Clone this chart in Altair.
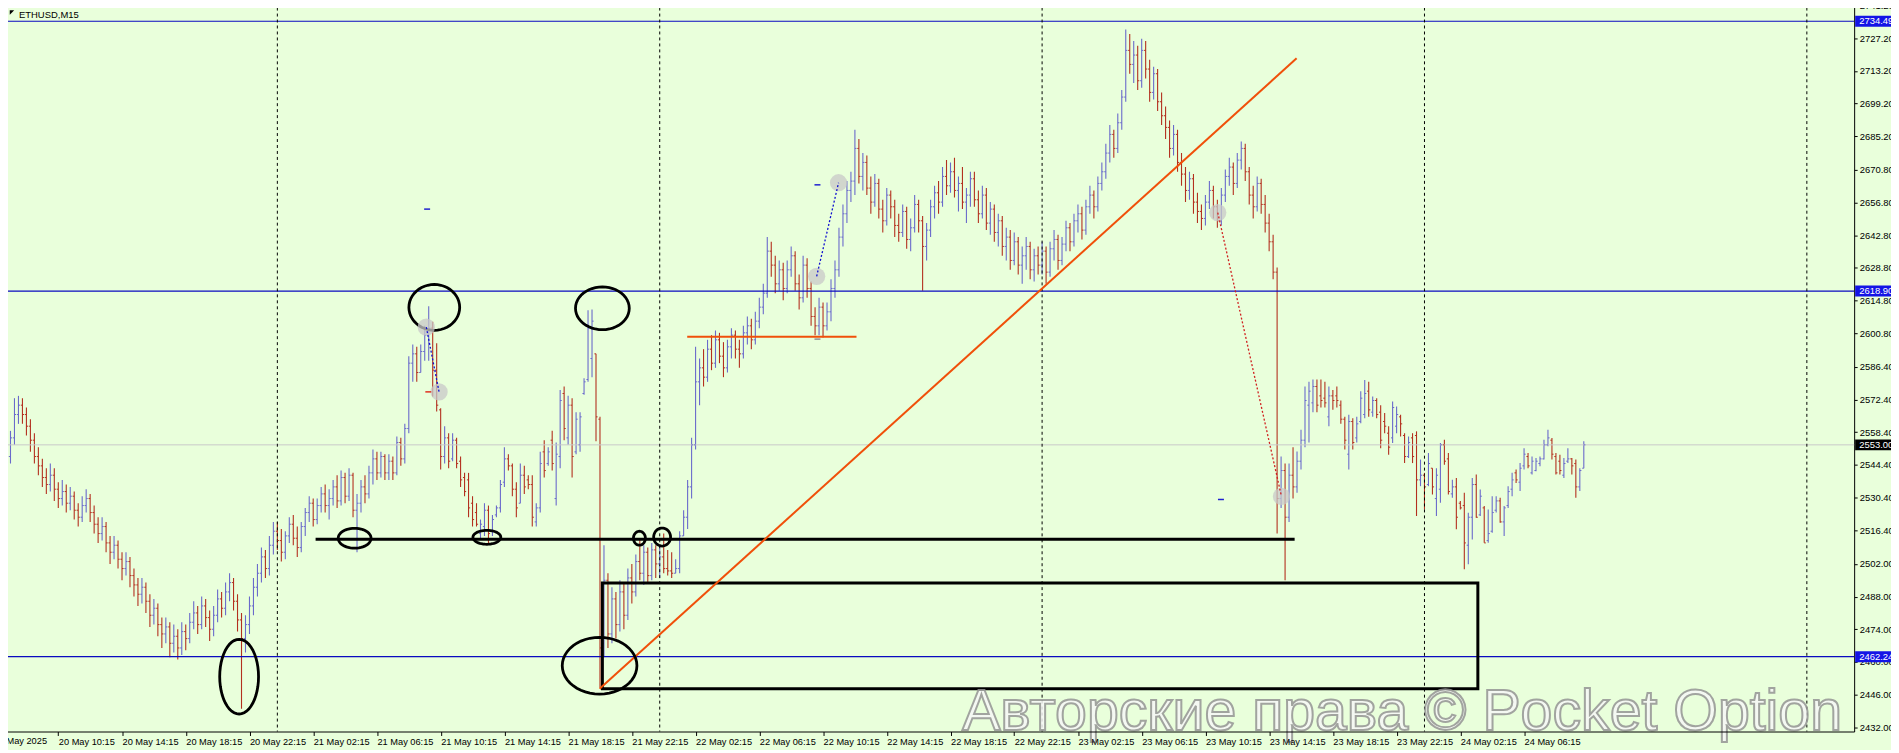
import math
import altair as alt
import pandas as pd

BG = "#e9ffdb"
UP = "#6a6acb"
DOWN = "#b3301f"
FONT = "Liberation Sans"

# ---------------- price data: 15-min bars, k counted from 21 May 00:00 ----------------
# 20 May 06:45 .. 23:45  (k = -69 .. -1)
o_20 = [2542, 2545, 2548, 2556, 2566, 2570, 2566, 2561, 2555, 2548, 2544, 2539, 2536, 2540, 2534, 2530, 2533,
        2528, 2531, 2525, 2522, 2527, 2530, 2524, 2519, 2515, 2518, 2511, 2507, 2510, 2504, 2500, 2503, 2497,
        2493, 2489, 2492, 2486, 2480, 2483, 2476, 2472, 2475, 2468, 2471, 2466, 2473, 2470, 2477, 2481, 2476,
        2484, 2479, 2474, 2480, 2487, 2483, 2490, 2494, 2486, 2478, 2470, 2476, 2484, 2492, 2498, 2505, 2500, 2510]
h_20 = [2549, 2551, 2559, 2573, 2574, 2573, 2569, 2564, 2558, 2552, 2547, 2543, 2545, 2543, 2537, 2538, 2536,
        2535, 2533, 2528, 2531, 2534, 2532, 2527, 2522, 2522, 2520, 2514, 2514, 2512, 2507, 2507, 2505, 2500,
        2496, 2496, 2494, 2489, 2487, 2485, 2479, 2479, 2477, 2476, 2474, 2477, 2476, 2481, 2486, 2484, 2488,
        2487, 2482, 2484, 2491, 2490, 2494, 2498, 2496, 2489, 2481, 2480, 2488, 2496, 2502, 2509, 2508, 2514, 2520]
l_20 = [2538, 2541, 2545, 2553, 2562, 2562, 2557, 2550, 2545, 2540, 2535, 2532, 2533, 2529, 2526, 2527, 2524,
        2525, 2521, 2518, 2520, 2524, 2520, 2515, 2511, 2512, 2507, 2502, 2504, 2500, 2495, 2497, 2492, 2488,
        2484, 2485, 2481, 2475, 2476, 2471, 2466, 2468, 2462, 2464, 2461, 2463, 2465, 2468, 2474, 2472, 2474,
        2475, 2469, 2471, 2477, 2479, 2480, 2486, 2482, 2473, 2440, 2464, 2472, 2480, 2488, 2494, 2496, 2497, 2506]
c_20 = [2545, 2548, 2556, 2566, 2570, 2566, 2561, 2555, 2548, 2544, 2539, 2536, 2540, 2534, 2530, 2533, 2528,
        2531, 2525, 2522, 2527, 2530, 2524, 2519, 2515, 2518, 2511, 2507, 2510, 2504, 2500, 2503, 2497, 2493,
        2489, 2492, 2486, 2480, 2483, 2476, 2472, 2475, 2468, 2471, 2466, 2473, 2470, 2477, 2481, 2476, 2484,
        2479, 2474, 2480, 2487, 2483, 2490, 2494, 2486, 2478, 2470, 2476, 2484, 2492, 2498, 2505, 2500, 2510, 2516]

# 21 May (k = 0 .. 95)
o_21 = [2516, 2512, 2507, 2514, 2519, 2513, 2509, 2518, 2524, 2528, 2521, 2527, 2532, 2527, 2530, 2535,
        2529, 2539, 2531, 2540, 2525, 2528, 2535, 2532, 2541, 2547, 2541, 2548, 2541, 2546, 2541, 2554,
        2547, 2560, 2588, 2592, 2584, 2593, 2600, 2603, 2585, 2568, 2548, 2556, 2547, 2555, 2546, 2539,
        2538, 2528, 2524, 2515, 2518, 2525, 2516, 2523, 2526, 2537, 2547, 2544, 2534, 2528, 2540, 2538,
        2536, 2520, 2526, 2550, 2545, 2555, 2530, 2548, 2575, 2556, 2570, 2550, 2553, 2575, 2581, 2590,
        2592, 2564, 2468, 2495, 2472, 2487, 2476, 2490, 2480, 2496, 2490, 2503, 2498, 2507, 2497, 2508]
h_21 = [2520, 2517, 2516, 2522, 2523, 2518, 2520, 2526, 2531, 2530, 2530, 2535, 2536, 2534, 2538, 2540,
        2542, 2541, 2543, 2541, 2532, 2538, 2540, 2544, 2551, 2550, 2550, 2549, 2549, 2548, 2556.6, 2556,
        2562, 2591, 2596, 2595, 2596, 2604, 2612.4, 2605.7, 2596.5, 2568.7, 2561, 2558, 2558, 2556, 2548, 2541,
        2541, 2531, 2528, 2521, 2528, 2527, 2523, 2527, 2538, 2552, 2549, 2545, 2537, 2545, 2544, 2540,
        2540, 2528, 2550, 2555, 2552, 2559, 2554, 2576.5, 2578, 2574, 2573, 2567, 2567, 2581.5, 2610.7, 2611,
        2592, 2565, 2510, 2498, 2492, 2490, 2495, 2494, 2500, 2502, 2506, 2513, 2510, 2509, 2511, 2510]
l_21 = [2508, 2503, 2504, 2511, 2510, 2505, 2507, 2514, 2520, 2518, 2519, 2524, 2524, 2521, 2527, 2526,
        2527, 2528, 2529, 2522, 2507, 2524, 2528, 2530, 2536, 2538, 2539, 2538, 2538, 2538, 2540, 2544,
        2545, 2558, 2580, 2580, 2584, 2589, 2589, 2573.7, 2567.3, 2542.4, 2545, 2543, 2546, 2543, 2535, 2531,
        2522, 2518, 2518, 2513, 2514, 2511, 2514, 2522, 2524, 2535, 2542, 2531, 2522, 2528, 2532, 2534,
        2518, 2518, 2524, 2539, 2544, 2542, 2527, 2543, 2555, 2553, 2539, 2549, 2550, 2574.5, 2580, 2582,
        2554.5, 2449, 2462, 2466, 2468, 2470, 2473, 2474, 2478, 2485, 2488, 2495, 2493, 2494, 2495, 2496]
c_21 = [2512, 2507, 2514, 2519, 2513, 2509, 2518, 2524, 2528, 2521, 2527, 2532, 2527, 2530, 2535, 2529,
        2539, 2531, 2540, 2525, 2528, 2535, 2532, 2541, 2547, 2541, 2548, 2541, 2546, 2541, 2554, 2547,
        2560, 2588, 2592, 2584, 2593, 2600, 2603, 2585, 2570, 2548, 2556, 2546, 2555, 2545, 2538, 2533,
        2526, 2521, 2519, 2519, 2525, 2515, 2521, 2526, 2536, 2547, 2544, 2534, 2526, 2540, 2535, 2536,
        2522, 2526, 2545, 2542, 2550, 2545, 2549, 2572, 2560, 2570, 2548, 2564, 2565, 2580, 2603, 2606,
        2565, 2466, 2495, 2472, 2487, 2476, 2490, 2480, 2496, 2490, 2503, 2498, 2507, 2497, 2508, 2502]

# 22 May (k = 96 .. 191)
o_22 = [2502, 2505, 2500, 2499, 2498, 2500, 2514, 2522, 2535, 2553, 2580, 2586, 2582, 2594, 2588, 2598,
        2591, 2586, 2595, 2600, 2594, 2592, 2601, 2604, 2598, 2606, 2612, 2618, 2636, 2630, 2622, 2628,
        2620, 2628, 2634, 2622, 2616, 2630, 2620, 2608, 2604, 2612, 2604, 2610, 2620, 2628, 2642, 2652,
        2662, 2666, 2680, 2668, 2674, 2663, 2657, 2665, 2654, 2649, 2660, 2655, 2647, 2644, 2653, 2641,
        2646, 2656, 2649, 2638, 2645, 2655, 2661, 2657, 2668, 2664, 2670, 2662, 2665, 2657, 2660, 2667,
        2658, 2652, 2660, 2648, 2654, 2644, 2649, 2638, 2642, 2632, 2640, 2630, 2634, 2638, 2628, 2634]
h_22 = [2510, 2515, 2508, 2507, 2504, 2516, 2525, 2538, 2556, 2595, 2590, 2594, 2598, 2600, 2602, 2601,
        2597, 2598, 2603, 2602, 2598, 2604, 2608, 2607, 2610, 2616, 2622, 2642, 2640, 2634, 2632, 2631,
        2632, 2638, 2636, 2626, 2634, 2633, 2623, 2612, 2616, 2614, 2614, 2624, 2632, 2646, 2656, 2666,
        2670, 2688, 2684, 2678, 2677, 2668, 2669, 2667, 2658, 2663, 2662, 2658, 2652, 2656, 2655, 2650,
        2660, 2658, 2651, 2648, 2658, 2664, 2666, 2672, 2675, 2674, 2676, 2668, 2672, 2663, 2670, 2670,
        2662, 2664, 2663, 2657, 2656, 2652, 2651, 2646, 2645, 2644, 2642, 2638, 2642, 2640, 2637, 2638]
l_22 = [2496, 2498, 2497, 2496, 2498, 2498, 2514, 2517, 2530, 2551, 2570, 2578, 2580, 2585, 2586, 2588,
        2582, 2584, 2590, 2590, 2586, 2590, 2596, 2594, 2596, 2603, 2609, 2616, 2625, 2618, 2619, 2615,
        2618, 2625, 2619, 2611, 2614, 2616, 2604, 2600, 2600, 2599, 2602, 2606, 2616, 2625, 2638, 2648,
        2657, 2660, 2665, 2662, 2660, 2652, 2655, 2650, 2644, 2647, 2650, 2642, 2640, 2642, 2637, 2636,
        2644, 2644, 2619, 2632, 2642, 2650, 2652, 2655, 2660, 2661, 2659, 2653, 2654, 2648, 2655, 2655,
        2648, 2650, 2645, 2643, 2640, 2638, 2634, 2632, 2628, 2630, 2626, 2622, 2628, 2624, 2623, 2626]
c_22 = [2505, 2500, 2499, 2498, 2500, 2514, 2522, 2535, 2553, 2580, 2586, 2582, 2594, 2588, 2598, 2591,
        2586, 2595, 2600, 2594, 2592, 2601, 2604, 2598, 2606, 2612, 2618, 2636, 2630, 2622, 2628, 2620,
        2628, 2634, 2622, 2616, 2630, 2620, 2608, 2604, 2612, 2604, 2610, 2620, 2628, 2642, 2652, 2662,
        2666, 2680, 2668, 2674, 2663, 2657, 2665, 2654, 2649, 2660, 2655, 2647, 2644, 2653, 2641, 2646,
        2656, 2649, 2638, 2645, 2655, 2661, 2657, 2668, 2664, 2670, 2662, 2665, 2657, 2660, 2667, 2658,
        2652, 2660, 2648, 2654, 2644, 2649, 2638, 2642, 2632, 2640, 2630, 2634, 2638, 2628, 2634, 2630]

# 23 May (k = 192 .. 287)
o_23 = [2630, 2636, 2627, 2637, 2641, 2632, 2639, 2646, 2640, 2649, 2652, 2645, 2655, 2660, 2655, 2665,
        2670, 2678, 2686, 2680, 2691, 2702, 2722, 2716, 2720, 2709, 2722, 2714, 2704, 2712, 2700, 2694,
        2689, 2680, 2686, 2674, 2669, 2662, 2667, 2657, 2653, 2650, 2657, 2662, 2655, 2649, 2660, 2668,
        2672, 2665, 2675, 2680, 2670, 2660, 2655, 2665, 2656, 2648, 2640, 2627, 2530, 2542, 2522, 2540,
        2535, 2546, 2555, 2570, 2571, 2578, 2574, 2573, 2565, 2574, 2574, 2570, 2564, 2549, 2563, 2556,
        2563, 2566, 2576, 2567, 2572, 2567, 2563, 2558, 2556, 2561, 2565, 2557, 2548, 2556, 2557, 2538]
h_23 = [2640, 2638, 2640, 2645, 2643, 2642, 2649, 2648, 2652, 2656, 2655, 2658, 2664, 2662, 2668, 2674,
        2682, 2690, 2688, 2695, 2705, 2731, 2729, 2726, 2724, 2727, 2726, 2718, 2715, 2714, 2704, 2698,
        2692, 2690, 2688, 2678, 2672, 2670, 2669, 2661, 2656, 2660, 2666, 2664, 2658, 2663, 2671, 2676,
        2674, 2678, 2683, 2682, 2672, 2664, 2668, 2667, 2660, 2652, 2643, 2629, 2548, 2545, 2545, 2552,
        2550.2, 2559.5, 2578, 2580, 2581, 2581, 2581, 2580, 2578, 2576.5, 2578, 2572, 2565, 2565.9, 2564.4, 2565,
        2576, 2580.8, 2580, 2573.7, 2573, 2570, 2566.6, 2561, 2571.6, 2569.4, 2565.9, 2558, 2556.6, 2558, 2558.8, 2546.7]
l_23 = [2626, 2622, 2625, 2632, 2628, 2630, 2636, 2636, 2638, 2644, 2641, 2643, 2652, 2650, 2653, 2662,
        2667, 2674, 2676, 2678, 2688, 2700, 2712, 2708, 2705, 2706, 2710, 2700, 2701, 2696, 2690, 2684,
        2676, 2677, 2670, 2664, 2657, 2658, 2652, 2648, 2645, 2647, 2654, 2650, 2646, 2647, 2657, 2664,
        2660, 2663, 2671, 2666, 2656, 2650, 2653, 2652, 2644, 2636, 2624, 2515, 2526, 2495, 2520, 2530,
        2532.5, 2542.4, 2552, 2554, 2567, 2567, 2569, 2569, 2561, 2568, 2569, 2562, 2551, 2542.4, 2551, 2554,
        2562.3, 2564.4, 2565, 2565, 2564.4, 2551.6, 2558, 2548.8, 2553.8, 2558, 2556.6, 2545.2, 2547.4, 2545.2, 2522.5, 2535.3]
c_23 = [2636, 2627, 2637, 2641, 2632, 2639, 2646, 2640, 2649, 2652, 2645, 2655, 2660, 2655, 2665, 2670,
        2678, 2686, 2680, 2691, 2702, 2722, 2716, 2720, 2709, 2722, 2714, 2704, 2712, 2700, 2694, 2689,
        2680, 2686, 2674, 2669, 2662, 2667, 2657, 2653, 2650, 2657, 2662, 2655, 2649, 2660, 2668, 2672,
        2665, 2675, 2680, 2670, 2660, 2655, 2665, 2656, 2648, 2640, 2627, 2530, 2542, 2522, 2540, 2535,
        2546, 2555, 2572, 2576, 2578, 2570, 2572, 2571, 2574, 2572, 2572, 2564, 2555, 2563, 2554, 2562,
        2573, 2575, 2568, 2572, 2566, 2555, 2561, 2552, 2569, 2566, 2562, 2548, 2554, 2548, 2538, 2540]

# 24 May 00:00 .. 10:00 (k = 288 .. 328)
o_24 = [2540, 2536, 2543, 2530, 2534, 2553, 2547, 2532, 2535, 2528, 2527, 2510, 2522, 2536, 2523, 2526,
        2512, 2516, 2525, 2529, 2520, 2527, 2534, 2541, 2537, 2544, 2548, 2541, 2542, 2545, 2547, 2553,
        2555, 2548, 2546, 2540, 2546, 2547, 2545, 2535, 2543]
h_24 = [2541, 2549.5, 2543, 2543, 2553.8, 2555.2, 2549.5, 2538.1, 2538.8, 2528.9, 2532.5, 2523.9, 2538.8, 2540.3,
        2533.9, 2526.8, 2525.3, 2531, 2531, 2530.3, 2526.8, 2535.3, 2541, 2542.4, 2545.2, 2551.6, 2549.5, 2548,
        2547.4, 2548, 2555.2, 2559.5, 2555.9, 2549.5, 2548.8, 2547.4, 2551.6, 2547.4, 2546.7, 2543, 2554.5]
l_24 = [2525.3, 2535.3, 2531.7, 2522.5, 2528.2, 2544.5, 2531.7, 2530.3, 2516.8, 2525.3, 2499.7, 2501.9, 2512.5,
        2521.8, 2522.5, 2511.1, 2511.1, 2515.4, 2524, 2519.6, 2514, 2526, 2531, 2536.7, 2533.2, 2542.4, 2543,
        2540.3, 2541.7, 2543.8, 2546.7, 2552.4, 2546.7, 2540.3, 2540.3, 2538.8, 2545.2, 2540.3, 2530.3, 2533.2, 2543]
c_24 = [2535, 2545, 2535, 2540, 2553, 2546, 2533, 2535, 2522, 2526, 2511, 2522, 2536, 2522, 2531, 2511,
        2515, 2524, 2529, 2520, 2526, 2533, 2538, 2538, 2543, 2549, 2544, 2546, 2546, 2547, 2553, 2556,
        2549, 2541, 2542, 2545, 2547, 2544, 2535, 2542, 2553]

rows = []
for k0, oo, hh, ll, cc in ((-69, o_20, h_20, l_20, c_20), (0, o_21, h_21, l_21, c_21),
                           (96, o_22, h_22, l_22, c_22), (192, o_23, h_23, l_23, c_23),
                           (288, o_24, h_24, l_24, c_24)):
    for i in range(len(cc)):
        rows.append((k0 + i, oo[i], hh[i], ll[i], cc[i], UP if cc[i] >= oo[i] else DOWN))
bars = pd.DataFrame(rows, columns=["k", "o", "h", "l", "c", "col"])

# ---------------- axes ----------------
time_ticks = [-55 + 16 * n for n in range(24)]
time_labels = ["20 May 10:15", "20 May 14:15", "20 May 18:15", "20 May 22:15",
               "21 May 02:15", "21 May 06:15", "21 May 10:15", "21 May 14:15", "21 May 18:15", "21 May 22:15",
               "22 May 02:15", "22 May 06:15", "22 May 10:15", "22 May 14:15", "22 May 18:15", "22 May 22:15",
               "23 May 02:15", "23 May 06:15", "23 May 10:15", "23 May 14:15", "23 May 18:15", "23 May 22:15",
               "24 May 02:15", "24 May 06:15"]
price_ticks = [2741.2, 2727.2, 2713.2, 2699.2, 2685.2, 2670.8, 2656.8, 2642.8, 2628.8, 2614.8, 2600.8,
               2586.4, 2572.4, 2558.4, 2544.4, 2530.4, 2516.4, 2502.0, 2488.0, 2474.0, 2460.0, 2446.0, 2432.0]

W, H = 1862, 733
XS = alt.Scale(domain=[-69.625, 395.875], nice=False, zero=False)
YS = alt.Scale(domain=[2430.2, 2742.9], nice=False, zero=False)
label_expr = "[" + ",".join("'%s'" % s for s in time_labels) + "][(datum.value + 55) / 16]"
XA = alt.Axis(values=time_ticks, labelExpr=label_expr, title=None, grid=False, orient="bottom",
              labelAlign="left", labelBaseline="top", labelPadding=2, tickSize=4, labelFont=FONT,
              labelFontSize=9.3, labelColor="black", tickColor="black", domainColor="black",
              labelOverlap=False, labelFlush=False, zindex=1)
YA = alt.Axis(values=price_ticks, format=".2f", title=None, grid=False, orient="right",
              labelAlign="left", labelBaseline="middle", labelPadding=2, tickSize=3, labelFont=FONT,
              labelFontSize=9.5, labelColor="black", tickColor="black", domainColor="black",
              labelOverlap=False, labelFlush=False)


def X(f):
    return alt.X(f, type="quantitative", scale=XS, axis=XA)


def Y(f):
    return alt.Y(f, type="quantitative", scale=YS, axis=YA)


col = alt.Color("col:N", scale=None)

hl = alt.Chart(bars).mark_rule(strokeWidth=1.1, clip=True).encode(x=X("k"), y=Y("l"), y2="h", color=col)
op = alt.Chart(bars).mark_rule(strokeWidth=1, xOffset=-1.6, x2Offset=0, clip=True).encode(
    x=X("k"), x2="k", y=Y("o"), color=col)
cl = alt.Chart(bars).mark_rule(strokeWidth=1, xOffset=0, x2Offset=1.6, clip=True).encode(
    x=X("k"), x2="k", y=Y("c"), color=col)

# ---------------- annotations ----------------
hline = alt.Chart(pd.DataFrame({"p": [2734.49, 2618.90, 2462.24]})).mark_rule(
    color="#0a0ac0", strokeWidth=1.2).encode(y=Y("p"), x=alt.value(0), x2=alt.value(W))
cur = alt.Chart(pd.DataFrame({"p": [2553.00]})).mark_rule(color="#c9c9c9", strokeWidth=1).encode(
    y=Y("p"), x=alt.value(0), x2=alt.value(W))
sep = alt.Chart(pd.DataFrame({"k": [0, 96, 192, 288, 384]})).mark_rule(
    color="black", strokeWidth=1, strokeDash=[3, 3]).encode(x=X("k"), y=alt.value(0), y2=alt.value(H))

level = alt.Chart(pd.DataFrame({"k": [9.6], "k2": [255.4], "p": [2512.6]})).mark_rule(
    color="black", strokeWidth=3).encode(x=X("k"), x2="k2", y=Y("p"))
box = alt.Chart(pd.DataFrame({"k": [81.6], "k2": [301.4], "p": [2448.5], "p2": [2493.8]})).mark_rect(
    filled=False, color="black", strokeWidth=3).encode(x=X("k"), x2="k2", y=Y("p"), y2="p2")
trend = alt.Chart(pd.DataFrame({"k": [80.9], "k2": [255.9], "p": [2448.5], "p2": [2718.6]})).mark_rule(
    color="#f0500a", strokeWidth=2).encode(x=X("k"), x2="k2", y=Y("p"), y2="p2")
short = alt.Chart(pd.DataFrame({"k": [102.9], "k2": [145.4], "p": [2599.3]})).mark_rule(
    color="#f0500a", strokeWidth=2).encode(x=X("k"), x2="k2", y=Y("p"))

ell_k = [-9.6, 39.4, 81.6, 19.4, 52.6, 90.9, 96.6, 80.9]
ell_p = [2453.7, 2611.9, 2611.5, 2513.0, 2513.4, 2513.0, 2513.5, 2458.4]
ell_w = [39, 51, 54, 33, 28, 12, 17, 75]
ell_h = [75, 46, 43, 20, 14, 14, 18, 57]


def ellipse_path(w, h, n=48):
    m = float(max(w, h))
    rx, ry = w / m, h / m
    pts = ["%.4f,%.4f" % (rx * math.cos(2 * math.pi * i / n), ry * math.sin(2 * math.pi * i / n)) for i in range(n)]
    return "M" + "L".join(pts) + "Z"


ells = pd.DataFrame({"k": ell_k, "p": ell_p,
                     "shape": [ellipse_path(w, h) for w, h in zip(ell_w, ell_h)],
                     "size": [max(w, h) ** 2 for w, h in zip(ell_w, ell_h)]})
ellipse = alt.Chart(ells).mark_point(filled=False, color="black", strokeWidth=2.8, opacity=1).encode(
    x=X("k"), y=Y("p"), shape=alt.Shape("shape:N", scale=None), size=alt.Size("size:Q", scale=None))

trade_k = [37.4, 40.6, 135.4, 140.9, 236.1, 252.1]
trade_p = [2603.4, 2575.7, 2625.2, 2665.3, 2652.5, 2530.9]
circles = alt.Chart(pd.DataFrame({"k": trade_k, "p": trade_p})).mark_circle(
    color="#c8c8c8", size=300, opacity=0.75).encode(x=X("k"), y=Y("p"))
segs = pd.DataFrame({"seg": ["a", "a", "b", "b", "c", "c"], "k": trade_k, "p": trade_p,
                     "clr": ["#1010d0", "#1010d0", "#1010d0", "#1010d0", "#d02020", "#d02020"]})
dotted = alt.Chart(segs).mark_line(strokeWidth=1.3, strokeDash=[2, 2]).encode(
    x=X("k"), y=Y("p"), detail="seg:N", color=alt.Color("clr:N", scale=None))

dash_k = [37.6, 135.6, 236.9, 37.9, 135.6]
dash_p = [2654.0, 2664.4, 2529.6, 2575.7, 2598.3]
dash_c = ["#2020d0", "#2020d0", "#2020d0", "#e03020", "#909090"]
dashes = alt.Chart(pd.DataFrame({"k": dash_k, "p": dash_p, "clr": dash_c})).mark_rule(
    strokeWidth=1.5, xOffset=-3, x2Offset=3).encode(
    x=X("k"), x2="k", y=Y("p"), color=alt.Color("clr:N", scale=None))

tag_p = [2734.49, 2618.90, 2462.24, 2553.00]
tag_t = ["2734.49", "2618.90", "2462.24", "2553.00"]
tag_c = ["#1414e6", "#1414e6", "#1414e6", "#000000"]
tags_df = pd.DataFrame({"p": tag_p, "t": tag_t, "bg": tag_c})
tag_bg = alt.Chart(tags_df).mark_rule(strokeWidth=11, strokeCap="butt").encode(
    y=Y("p"), x=alt.value(W + 1), x2=alt.value(W + 45), color=alt.Color("bg:N", scale=None))
tag_tx = alt.Chart(tags_df).mark_text(align="left", baseline="middle", font=FONT, fontSize=9.5,
                                      color="white").encode(y=Y("p"), x=alt.value(W + 5), text="t:N")

first_lbl = alt.Chart(pd.DataFrame({"k": [-71.0], "t": ["20 May 2025"]})).mark_text(
    align="left", baseline="top", font=FONT, fontSize=9.3, color="black", dx=-1).encode(
    x=X("k"), y=alt.value(H + 6), text="t:N")

title = alt.Chart(pd.DataFrame({"t": ["ETHUSD,M15"]})).mark_text(
    align="left", baseline="alphabetic", font=FONT, fontSize=9.5, color="black").encode(
    x=alt.value(19), y=alt.value(16), text="t:N")
tri = alt.Chart(pd.DataFrame({"t": ["x"]})).mark_point(
    shape="M-1,-1L1,-1L-1,1Z", filled=True, color="black", size=20, opacity=1).encode(
    x=alt.value(12), y=alt.value(11))

wm = alt.Chart(pd.DataFrame({"t": ["Авторские права © Pocket Option"]})).mark_text(
    align="center", baseline="alphabetic", font=FONT, fontSize=57.5, fill="#f7f7f7", stroke="#959595",
    strokeWidth=2, opacity=0.85).encode(x=alt.value(1408), y=alt.value(731), text="t:N")

chart = alt.layer(
    hl, hline, cur, sep, op, cl, box, level, trend, short, ellipse, circles, dotted, dashes,
    tag_bg, tag_tx, first_lbl, title, tri, wm
).properties(
    width=W, height=H,
    autosize=alt.AutoSizeParams(type="none"),
    padding={"left": -8, "top": -8, "right": 37, "bottom": 17},
).configure(background=BG).configure_view(stroke=None)

chart.save("out.html", embed_options={"renderer": "svg", "actions": False})
